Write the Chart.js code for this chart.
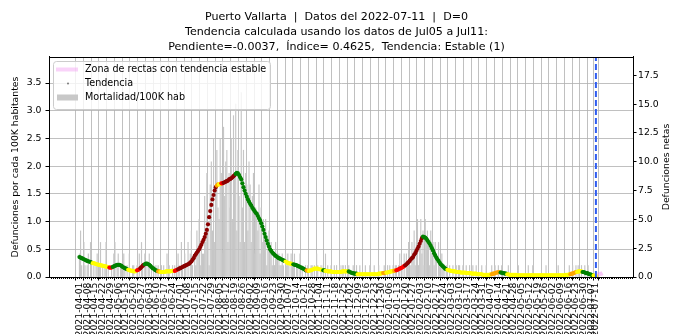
<!DOCTYPE html>
<html>
<head>
<meta charset="utf-8">
<script src="https://cdn.jsdelivr.net/npm/chart.js@4.4.0/dist/chart.umd.min.js"></script>
<style>
  html, body { margin: 0; padding: 0; background: #fff; }
  #grafica { display: block; }
</style>
</head>
<body>
<canvas id="grafica" width="673" height="334"></canvas>
<script>
const FUENTE = "'DejaVu Sans', sans-serif";

const titulo = [
    'Puerto Vallarta  |  Datos del 2022-07-11  |  D=0',
    'Tendencia calculada usando los datos de Jul05 a Jul11:',
    'Pendiente=-0.0037,  Índice= 0.4625,  Tendencia: Estable (1)'
];

// primer día de la serie; todo se indexa en días desde aquí
const fechaInicio = '2021-04-01';
const fechaCorte = '2022-07-11';

// defunciones netas por día (una fila por semana)
const defunciones = [
    2,4,1,0,3,1,0,  1,2,0,3,1,0,1,  0,1,2,0,1,3,0,  1,0,1,3,0,1,0,
    0,1,0,2,3,0,1,  2,0,1,1,0,2,1,  0,1,0,2,0,0,1,  1,0,0,1,0,2,0,
    3,1,0,2,1,0,1,  2,0,1,0,1,0,1,  0,1,0,0,1,0,1,  0,0,2,0,1,0,0,
    1,0,1,0,0,2,1,  0,3,1,0,2,1,0,  3,0,2,4,1,0,2,  1,4,2,5,1,3,2,
    2,7,3,9,4,1,8,  10,4,12,3,8,11,6,  5,12,9,2,13,7,10,  11,3,9,6,12,5,14,
    9,15,4,11,7,3,16,  6,11,3,9,8,4,10,  8,3,7,9,2,6,5,  4,8,2,6,3,5,4,
    5,1,3,4,2,3,1,  2,1,3,2,1,2,1,  1,2,1,0,2,1,2,  1,0,2,1,1,2,0,
    1,1,0,2,0,1,0,  0,1,0,1,0,0,1,  1,0,1,0,2,1,0,  0,1,0,1,0,2,0,
    1,0,0,1,0,0,1,  0,1,0,0,1,0,1,  1,0,1,0,0,1,0,  0,0,1,0,0,1,0,
    0,1,0,0,0,0,1,  0,0,0,1,0,0,0,  1,0,0,0,1,0,0,  0,0,1,0,0,1,0,
    1,0,0,1,0,1,1,  0,1,2,0,1,0,2,  0,2,1,3,0,1,3,  2,4,1,3,5,1,3,
    5,2,4,1,5,3,4,  3,1,4,2,3,1,3,  2,0,3,1,0,2,1,  1,0,1,1,0,1,0,
    0,1,0,0,1,0,1,  1,0,0,1,0,0,1,  0,0,1,0,0,1,0,  0,1,0,0,0,0,1,
    0,0,0,1,0,0,0,  0,1,0,0,1,0,0,  1,0,0,1,0,0,0,  0,0,1,0,0,0,0,
    0,0,0,0,1,0,0,  0,0,0,0,0,0,1,  0,0,0,1,0,0,0,  0,0,0,0,0,0,0,
    0,1,0,0,0,0,0,  0,0,0,0,0,1,0,  0,0,0,0,0,0,0,  0,1,0,0,1,0,0,
    1,0,1,0,0,1,0,  0,1,0,0,1,0,0,  0,0,0,0,0
];

// tendencia en defunciones por cada 100K habitantes (un valor por día)
const tendencia = [
    0.36,0.35,0.34,0.33,0.32,0.31,0.30,  0.29,0.28,0.28,0.27,0.26,0.25,0.25,
    0.24,0.23,0.23,0.22,0.22,0.21,0.21,  0.20,0.20,0.19,0.19,0.18,0.18,0.17,
    0.17,0.17,0.18,0.19,0.20,0.21,0.22,  0.22,0.22,0.21,0.20,0.18,0.17,0.16,
    0.15,0.14,0.13,0.12,0.12,0.11,0.11,  0.10,0.10,0.11,0.12,0.13,0.14,0.16,
    0.18,0.20,0.22,0.23,0.24,0.24,0.23,  0.22,0.20,0.18,0.16,0.15,0.13,0.12,
    0.11,0.10,0.10,0.09,0.09,0.09,0.09,  0.09,0.10,0.10,0.10,0.10,0.10,0.11,
    0.11,0.11,0.11,0.12,0.13,0.14,0.15,  0.16,0.17,0.18,0.19,0.20,0.21,0.22,
    0.23,0.24,0.26,0.28,0.31,0.34,0.38,  0.41,0.44,0.47,0.50,0.54,0.58,0.63,
    0.67,0.72,0.78,0.85,0.95,1.08,1.19,  1.30,1.40,1.48,1.56,1.62,1.65,1.67,
    1.67,1.68,1.69,1.69,1.70,1.71,1.72,  1.73,1.74,1.76,1.77,1.78,1.80,1.82,
    1.84,1.86,1.88,1.87,1.84,1.80,1.76,  1.69,1.62,1.56,1.50,1.45,1.40,1.36,
    1.32,1.29,1.25,1.22,1.19,1.16,1.14,  1.10,1.06,1.02,0.97,0.91,0.85,0.78,
    0.72,0.66,0.60,0.55,0.50,0.47,0.44,  0.42,0.40,0.38,0.37,0.35,0.34,0.33,
    0.32,0.31,0.30,0.29,0.28,0.27,0.25,  0.25,0.24,0.24,0.23,0.23,0.22,0.22,
    0.21,0.20,0.19,0.18,0.17,0.16,0.15,  0.14,0.12,0.12,0.11,0.11,0.12,0.12,
    0.13,0.14,0.15,0.15,0.15,0.15,0.14,  0.14,0.13,0.13,0.12,0.12,0.11,0.11,
    0.10,0.10,0.10,0.10,0.09,0.09,0.09,  0.09,0.09,0.09,0.09,0.09,0.09,0.10,
    0.10,0.10,0.10,0.10,0.10,0.10,0.09,  0.08,0.07,0.07,0.06,0.06,0.06,0.05,
    0.05,0.05,0.05,0.05,0.05,0.05,0.05,  0.05,0.05,0.05,0.05,0.05,0.05,0.05,
    0.05,0.05,0.05,0.05,0.06,0.06,0.06,  0.07,0.07,0.07,0.08,0.08,0.08,0.09,
    0.09,0.10,0.10,0.11,0.11,0.12,0.12,  0.13,0.14,0.15,0.16,0.17,0.18,0.20,
    0.21,0.23,0.25,0.27,0.29,0.32,0.34,  0.36,0.40,0.43,0.47,0.51,0.55,0.60,
    0.65,0.70,0.73,0.72,0.71,0.69,0.66,  0.63,0.60,0.56,0.52,0.48,0.43,0.39,
    0.35,0.32,0.29,0.26,0.23,0.21,0.19,  0.17,0.15,0.14,0.13,0.12,0.12,0.11,
    0.11,0.10,0.10,0.10,0.09,0.09,0.09,  0.09,0.08,0.08,0.08,0.08,0.08,0.07,
    0.07,0.07,0.07,0.07,0.06,0.06,0.06,  0.06,0.06,0.05,0.05,0.05,0.05,0.05,
    0.04,0.04,0.04,0.04,0.04,0.04,0.04,  0.05,0.05,0.06,0.06,0.07,0.08,0.08,
    0.09,0.09,0.08,0.08,0.07,0.07,0.06,  0.06,0.05,0.05,0.04,0.04,0.04,0.04,
    0.04,0.04,0.04,0.03,0.03,0.03,0.03,  0.03,0.03,0.03,0.03,0.03,0.03,0.03,
    0.03,0.03,0.03,0.03,0.03,0.03,0.03,  0.03,0.03,0.03,0.03,0.03,0.03,0.03,
    0.03,0.03,0.03,0.03,0.03,0.03,0.03,  0.03,0.03,0.03,0.03,0.03,0.03,0.03,
    0.03,0.03,0.03,0.03,0.03,0.04,0.04,  0.04,0.05,0.05,0.06,0.06,0.07,0.08,
    0.09,0.09,0.10,0.10,0.10,0.10,0.09,  0.09,0.08,0.07,0.07,0.06,0.05,0.05,
    0.04,0.03,0.03,0.02,0.02
];

// color de cada tramo de la tendencia: [día en que empieza, clase]
const tramosColor = [
    [0,'verde'], [12,'amarillo'], [27,'rojo'], [30,'verde'], [44,'amarillo'],
    [52,'rojo'], [55,'guinda'], [59,'verde'], [71,'naranja'], [73,'amarillo'],
    [86,'rojo'], [89,'guinda'], [124,'naranja'], [126,'amarillo'], [128,'rojo'],
    [130,'guinda'], [141,'verde'], [186,'amarillo'], [193,'verde'], [205,'naranja'],
    [207,'amarillo'], [220,'verde'], [222,'amarillo'], [243,'verde'], [251,'amarillo'],
    [274,'naranja'], [277,'amarillo'], [284,'naranja'], [286,'rojo'], [294,'guinda'],
    [310,'verde'], [332,'amarillo'], [372,'naranja'], [380,'verde'], [386,'amarillo'],
    [443,'naranja'], [449,'amarillo'], [454,'verde'], [464,'amarillo']
];
const paleta = {
    verde: '#008000', amarillo: '#ffff00', naranja: '#ffa500',
    rojo: '#ff0000', guinda: '#8b0000'
};

// rectas con tendencia estable proyectadas tras la fecha de corte
const zonaDias = [466, 467, 468, 469, 470, 471, 472];
const zonaValores = [0.03, 0.04, 0.05, 0.05, 0.06, 0.06, 0.07];

const etiquetasX = [
    '2021-04-01','2021-04-08','2021-04-15','2021-04-22','2021-04-29',
    '2021-05-06','2021-05-13','2021-05-20','2021-05-27',
    '2021-06-03','2021-06-10','2021-06-17','2021-06-24',
    '2021-07-01','2021-07-08','2021-07-15','2021-07-22','2021-07-29',
    '2021-08-05','2021-08-12','2021-08-19','2021-08-26',
    '2021-09-02','2021-09-09','2021-09-16','2021-09-23','2021-09-30',
    '2021-10-07','2021-10-14','2021-10-21','2021-10-28',
    '2021-11-04','2021-11-11','2021-11-18','2021-11-25',
    '2021-12-02','2021-12-09','2021-12-16','2021-12-23','2021-12-30',
    '2022-01-06','2022-01-13','2022-01-20','2022-01-27',
    '2022-02-03','2022-02-10','2022-02-17','2022-02-24',
    '2022-03-03','2022-03-10','2022-03-17','2022-03-24','2022-03-31',
    '2022-04-07','2022-04-14','2022-04-21','2022-04-28',
    '2022-05-05','2022-05-12','2022-05-19','2022-05-26',
    '2022-06-02','2022-06-09','2022-06-16','2022-06-23','2022-06-30',
    '2022-07-07','2022-07-11'
];
const marcasIzq = [0, 0.5, 1, 1.5, 2, 2.5, 3, 3.5];
const marcasDer = [0, 2.5, 5, 7.5, 10, 12.5, 15, 17.5];

const Y_MAX_IZQ = 3.97;
const Y_MAX_DER = 19.09;
const X_MIN = -23.6;
const X_MAX = 495.6;
const TAM = 9.3;

function diaDe(fecha) {
    const p = fecha.split('-').map(Number);
    const q = fechaInicio.split('-').map(Number);
    return Math.round((Date.UTC(p[0], p[1] - 1, p[2]) - Date.UTC(q[0], q[1] - 1, q[2])) / 86400000);
}

function colorDelDia(dia) {
    let clase = tramosColor[0][1];
    for (let i = 0; i < tramosColor.length; i++) {
        if (dia >= tramosColor[i][0]) clase = tramosColor[i][1];
    }
    return paleta[clase];
}

// minor ticks del eje x cada 1.75 días
const marcasMenores = [];
for (let d = -21; d <= X_MAX; d += 1.75) marcasMenores.push(d);

const diaCorte = diaDe(fechaCorte);

// marco del área, leyenda con caja y título del eje derecho
const decoracion = {
    id: 'decoracion',
    afterDraw(chart) {
        const ctx = chart.ctx;
        const a = chart.chartArea;
        ctx.save();
        ctx.strokeStyle = '#000';
        ctx.lineWidth = 1;
        ctx.strokeRect(Math.round(a.left) + 0.5, Math.round(a.top) + 0.5,
            Math.round(a.right - a.left), Math.round(a.bottom - a.top));

        const x0 = Math.round(a.left) + 4, y0 = Math.round(a.top) + 4;
        ctx.beginPath();
        ctx.roundRect(x0 + 0.5, y0 + 0.5, 217, 48, 3);
        ctx.fillStyle = 'rgba(255,255,255,0.8)';
        ctx.fill();
        ctx.strokeStyle = '#cccccc';
        ctx.stroke();

        const ds = chart.data.datasets;
        const filas = [y0 + 8.5, y0 + 22.5, y0 + 36.5];
        // recta rosa
        ctx.strokeStyle = 'rgba(238,130,238,0.35)';
        ctx.lineWidth = 4;
        ctx.beginPath();
        ctx.moveTo(x0 + 3, filas[0]);
        ctx.lineTo(x0 + 25, filas[0]);
        ctx.stroke();
        // punto de tendencia
        ctx.fillStyle = '#777';
        ctx.beginPath();
        ctx.arc(x0 + 15, filas[1], 1, 0, Math.PI * 2);
        ctx.fill();
        // barra gris
        ctx.fillStyle = '#c8c8c8';
        ctx.fillRect(x0 + 4, filas[2] - 3, 21, 6);

        ctx.fillStyle = '#000';
        ctx.font = '9.6px ' + FUENTE;
        ctx.textBaseline = 'middle';
        ctx.textAlign = 'left';
        ctx.fillText(ds[0].label, x0 + 32, filas[0]);
        ctx.fillText(ds[1].label, x0 + 32, filas[1]);
        ctx.fillText(ds[2].label, x0 + 32, filas[2]);

        ctx.translate(667, (a.top + a.bottom) / 2);
        ctx.rotate(-Math.PI / 2);
        ctx.textAlign = 'center';
        ctx.font = TAM + 'px ' + FUENTE;
        ctx.fillText('Defunciones netas', 0, 0);
        ctx.restore();
    }
};

const grisRejilla = 'rgba(176,176,176,0.8)';

new Chart(document.getElementById('grafica').getContext('2d'), {
    type: 'bar',
    data: {
        datasets: [
            {
                type: 'line',
                label: 'Zona de rectas con tendencia estable',
                data: zonaDias.map((d, i) => ({x: d, y: zonaValores[i]})),
                borderColor: 'rgba(238,130,238,0.45)',
                borderWidth: 4,
                pointRadius: 0,
                yAxisID: 'y',
                order: 2
            },
            {
                type: 'scatter',
                label: 'Tendencia',
                data: tendencia.map((v, i) => ({x: i, y: v})),
                pointBackgroundColor: tendencia.map((v, i) => colorDelDia(i)),
                pointBorderWidth: 0,
                pointRadius: 2.1,
                yAxisID: 'y',
                order: 1
            },
            {
                type: 'bar',
                label: 'Mortalidad/100K hab',
                data: defunciones.map((v, i) => ({x: i, y: v})),
                backgroundColor: '#c6c6c6',
                barThickness: 0.5,
                yAxisID: 'y1',
                order: 3
            },
            {
                type: 'line',
                label: 'corte',
                data: [{x: diaCorte, y: 0}, {x: diaCorte, y: Y_MAX_IZQ}],
                borderColor: '#2f5cf0',
                borderWidth: 2,
                borderDash: [6, 3],
                pointRadius: 0,
                yAxisID: 'y',
                order: 0
            }
        ]
    },
    options: {
        responsive: false,
        animation: false,
        devicePixelRatio: 1,
        events: [],
        layout: { padding: 0 },
        plugins: {
            legend: { display: false },
            tooltip: { enabled: false },
            title: {
                display: true,
                text: titulo,
                color: '#000',
                font: { family: FUENTE, size: 11.1, weight: 'normal', lineHeight: 1.351 },
                padding: { top: 10, bottom: 2 }
            }
        },
        scales: {
            x: {
                type: 'linear',
                position: 'bottom',
                weight: 1,
                min: X_MIN,
                max: X_MAX,
                afterBuildTicks: (s) => { s.ticks = etiquetasX.map(f => ({value: diaDe(f)})); },
                afterFit: (s) => { s.height = 57; },
                ticks: {
                    autoSkip: false,
                    minRotation: 90,
                    maxRotation: 90,
                    padding: 2,
                    color: '#000',
                    font: { family: FUENTE, size: TAM },
                    callback: (v, i) => etiquetasX[i]
                },
                grid: { color: grisRejilla, lineWidth: 1, tickColor: '#000', tickLength: 3.5 },
                border: { color: '#000' }
            },
            x2: {
                type: 'linear',
                position: 'bottom',
                weight: 0,
                min: X_MIN,
                max: X_MAX,
                afterBuildTicks: (s) => { s.ticks = marcasMenores.map(v => ({value: v})); },
                afterFit: (s) => { s.height = 0; },
                ticks: { display: false },
                grid: { drawOnChartArea: false, tickColor: '#000', tickLength: 2 },
                border: { display: false }
            },
            y: {
                type: 'linear',
                position: 'left',
                min: 0,
                max: Y_MAX_IZQ,
                afterBuildTicks: (s) => { s.ticks = marcasIzq.map(v => ({value: v})); },
                afterFit: (s) => { s.width = 49; },
                ticks: {
                    padding: 4,
                    color: '#000',
                    font: { family: FUENTE, size: TAM },
                    callback: (v) => v.toFixed(1)
                },
                grid: { color: grisRejilla, lineWidth: 1, tickColor: '#000', tickLength: 3.5 },
                border: { color: '#000' },
                title: {
                    display: true,
                    text: 'Defunciones por cada 100K habitantes',
                    color: '#000',
                    font: { family: FUENTE, size: TAM },
                    padding: { top: 10.5, bottom: 0 }
                }
            },
            y1: {
                type: 'linear',
                position: 'right',
                min: 0,
                max: Y_MAX_DER,
                afterBuildTicks: (s) => { s.ticks = marcasDer.map(v => ({value: v})); },
                afterFit: (s) => { s.width = 40; },
                ticks: {
                    padding: 1.5,
                    color: '#000',
                    font: { family: FUENTE, size: TAM },
                    callback: (v) => v.toFixed(1)
                },
                grid: { drawOnChartArea: false, tickColor: '#000', tickLength: 3.5 },
                border: { color: '#000' }
            }
        }
    },
    plugins: [decoracion]
});
</script>
</body>
</html>
